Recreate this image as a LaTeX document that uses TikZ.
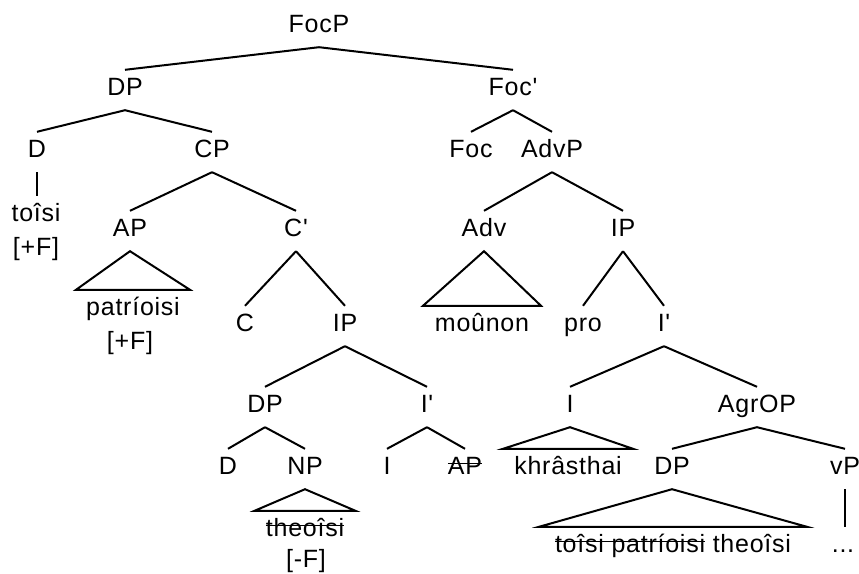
\documentclass[tikz,border=0pt]{standalone}
\usepackage{fontspec}
\newfontfamily\treefont{Liberation Sans}[LetterSpace=3]
\usetikzlibrary{calc}

% struck-through text (moved copies)
\newcommand\strk[1]{\setbox0\hbox{#1}\rlap{\vrule height 11.3pt depth -9.7pt width \wd0}\box0\relax}
% a branch from a parent label down to a daughter label
\newcommand\branch[2]{\draw[br] ($(#1.south)+(0,15)$) -- ($(#2.north)+(0,-7)$);}
% a triangle (roof) over an unanalysed constituent, #3 = half base width
\newcommand\roof[3]{\draw[br] ($(#1.south)+(0,15)$) -- ($(#2.north)+(-#3,-7)$) -- ($(#2.north)+(#3,-7)$) -- cycle;}

\begin{document}
\begin{tikzpicture}[x=1pt,y=-1pt,
  tn/.style={font=\treefont\fontsize{25}{30}\selectfont, inner sep=0pt,
             text height=18pt, text depth=0pt, anchor=base},
  br/.style={line width=2pt, black}]
\useasboundingbox (0,0) rectangle (859,573);
\fill[white] (0,0) rectangle (859,573);

% labels
\node[tn] (focp)   at (319,32)  {FocP};
\node[tn] (dp1)    at (125,95)  {DP};
\node[tn] (focbar) at (513,95)  {Foc'};
\node[tn] (d1)     at (37,157)  {D};
\node[tn] (cp)     at (212,157) {CP};
\node[tn] (foc)    at (471,157) {Foc};
\node[tn] (advp)   at (552,157) {AdvP};
\node[tn] (toisi)  at (36,221)  {toîsi};
\node[tn] (f1)     at (36,255)  {[+F]};
\node[tn] (ap1)    at (130,236) {AP};
\node[tn] (cbar)   at (296,236) {C'};
\node[tn] (adv)    at (484,236) {Adv};
\node[tn] (ip2)    at (623,236) {IP};
\node[tn] (patr)   at (133,315) {patríoisi};
\node[tn] (f2)     at (130,349) {[+F]};
\node[tn] (c)      at (245,331) {C};
\node[tn] (ip1)    at (345,331) {IP};
\node[tn] (mounon) at (482,331) {moûnon};
\node[tn] (pro)    at (583,331) {pro};
\node[tn] (ibar2)  at (664,331) {I'};
\node[tn] (dp2)    at (265,412) {DP};
\node[tn] (ibar1)  at (427,412) {I'};
\node[tn] (i2)     at (570,412) {I};
\node[tn] (agrop)  at (757,412) {AgrOP};
\node[tn] (d2)     at (228,474) {D};
\node[tn] (np)     at (305,474) {NP};
\node[tn] (i1)     at (387,474) {I};
\node[tn] (ap2)    at (465,474) {\strk{AP}};
\node[tn] (khr)    at (568,474) {khrâsthai};
\node[tn] (dp3)    at (672,474) {DP};
\node[tn] (vp)     at (845,474) {vP};
\node[tn] (theo)   at (305,536) {\strk{theoîsi}};
\node[tn] (f3)     at (306,567) {[-F]};
\node[tn] (copy)   at (673,552) {\strk{toîsi patríoisi} theoîsi};
\node[tn] (dots)   at (843,552) {...};

% branches
\branch{focp}{dp1}  \branch{focp}{focbar}
\branch{dp1}{d1}    \branch{dp1}{cp}
\branch{cp}{ap1}    \branch{cp}{cbar}
\branch{cbar}{c}    \branch{cbar}{ip1}
\branch{ip1}{dp2}   \branch{ip1}{ibar1}
\branch{dp2}{d2}    \branch{dp2}{np}
\branch{ibar1}{i1}  \branch{ibar1}{ap2}
\branch{focbar}{foc} \branch{focbar}{advp}
\branch{advp}{adv}  \branch{advp}{ip2}
\branch{ip2}{pro}   \branch{ip2}{ibar2}
\branch{ibar2}{i2}  \branch{ibar2}{agrop}
\branch{agrop}{dp3} \branch{agrop}{vp}

% unary branches
\draw[br] ($(d1.south)+(0,15)$) -- ($(d1.south |- toisi.north)+(0,-7)$);
\draw[br] ($(vp.south)+(0,15)$) -- ($(vp.south |- dots.north)+(0,-7)$);

% roofs
\roof{ap1}{patr}{57}
\roof{adv}{mounon}{59}
\roof{np}{theo}{50.5}
\roof{i2}{khr}{65}
\roof{dp3}{copy}{134}
\end{tikzpicture}
\end{document}
